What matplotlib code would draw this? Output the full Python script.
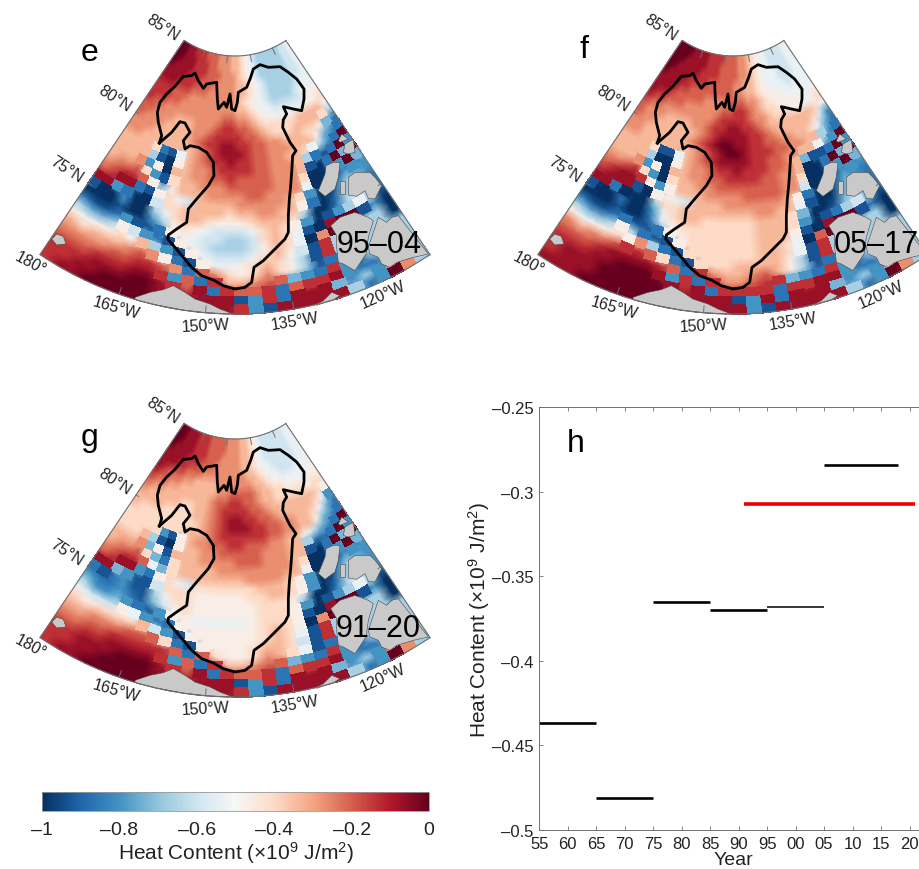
import numpy as np
import matplotlib
matplotlib.use('Agg')
import matplotlib.pyplot as plt
from matplotlib.cm import ScalarMappable
from matplotlib.colors import Normalize

plt.rcParams['font.family'] = ['Liberation Sans', 'DejaVu Sans']
plt.rcParams['mathtext.fontset'] = 'custom'
plt.rcParams['mathtext.rm'] = 'Liberation Sans'
plt.rcParams['mathtext.default'] = 'rm'

# heat content, one hex digit per cell: 0 = -1, f = 0
# rows go from 85N to 70N in 0.5 deg, columns from 180 to 110W in 2.5 deg
field_e = [
    'ffeedddcccbbbaa9876555555667',
    'ffeeedddccbbbaa9876555555667',
    'feeeedddcccbbba9876555555667',
    'eeeedddcccbbbbaa987655555667',
    'eeedddcccbbbbbaa987655555677',
    'dddcccbbbbbbbba9877655556777',
    'dddccbbbbbbbbbaa987766666788',
    'dccbbbbbbbbbccbba98877777889',
    'ccbbbaaabbbcddccba99999aaaa8',
    'cbbbaaaabbcddddccba999aaaa95',
    'bbbaaaaabcddeeddccbbaaa99842',
    'bbaaaaaaabcdeeedccbbbaaa8432',
    'aaaa9217abcddeddccbbaa97532f',
    'aaaa5108abbcddddccbbba5212f3',
    'aaab380aabbccdccccbbba102f4f',
    'abbc9319aabbbcccccbbb90013f4',
    'bcddc848aaabbbbccbbbb7001333',
    'cdee218976aaaabbbbba93003543',
    'ee3200699aaaa9aabbaa82014642',
    '100300579aa98889aaa950025752',
    '00010035898766679a9830135751',
    '21123112887665569a9710eff130',
    '54458632187655568a970bf55550',
    '878898a5318766679a861d555550',
    'a9aaabcb82187789a9751d555555',
    'bbbbccddcb2cb989b98512555555',
    'cccdddeed3c2daabcc432d325555',
    'dddeeeffedce2dccd2cdde322555',
    'ddeeffffefeeee13d2eee4353b55',
    'deefffffffeeeed31eeeee523fb5',
]
field_f = [
    'ffffeeeeddddcccbba9877666677',
    'fffeeeeedddccccbba9877666677',
    'ffeeeeeddddccccbba9877766677',
    'feeeeddddcccccbbaa9877766677',
    'eeeeddccccccccbbaa9887776777',
    'eeedcccccbbbbcccbba988877777',
    'eddcccbbbbbbccddcba998888778',
    'dccbbbbbbbbcddddcbba99988789',
    'cbbbaaaabbcddeeddcbaaaaaaa97',
    'cbbaaaaaabcdeeeeddcbaaaaa963',
    'bbaaaaaabcdeffeeddccbbaa9742',
    'bbaaaaaaabcdeffedddccbbaa532',
    'aaaa9117abcdeeeeddccbbaa743f',
    'aaaa5008abbcddedddccba4112f3',
    'aaab380aabbccddddccbba002f4f',
    'bbcd9309aabbcccccccbb90013f4',
    'cdeed838aaabbbbccccbb6001333',
    'deee108876aaabbbbbba82002432',
    'ee2000599aaaaaaabbaa71003542',
    '100200379aa99999aaa940014642',
    '0001002689999999aaa930125641',
    '2112211288999999aaa810eff120',
    '5445852118999999aa970cf55550',
    '878898b521999999aa971d555550',
    'babbcddc921999aaaa851d555555',
    'cccdeeeedc2dbaabca8512555555',
    'dddeefffe3d2dbbcdd432d325555',
    'deeefffffede2dddd2ddee322555',
    'deeeffffffeeee13e2eee4353b55',
    'eeefffffffeeeee31eeeee523fb5',
]
field_g = [
    'ffeeedddccccbbbaa98766666677',
    'ffeeedddccccbbbaa98766666677',
    'feeeedddcccbbbbaa98766666677',
    'eeeedddcccbbbbbaa98776666677',
    'eeeddcccbbbbbbbbaa9877666777',
    'edcccbbaaaabbbbbbaa988777778',
    'dccbbaaaaaabbccccbaa99888788',
    'cbbaaaaaaabccddccbaa99999899',
    'baaaaa99aabcddddccbaaaaaaa98',
    'aaaa9999aabcdeeddccbaaaaa973',
    'a99999999abcdeeeddccbbaa9742',
    '99999999aabcddddddccbbaa8432',
    '99999318abbccddcccbbaa86432f',
    '999a5108aabbcccccbbbaa5222f3',
    'aaab481aaabbbbcccbbbaa102f4f',
    'abbc9429aaaabbbbbbbba90013f4',
    'bcddc749aaaaaaabbbbaa7001333',
    'cdee328976999999aaa983003543',
    'ee431169998888899aa983014643',
    '2123115799888888999850025753',
    '3223214689888888999830135751',
    '5334321388777778999810eff130',
    '76668732288888889a980bf55550',
    '989999a6318888889a971d555550',
    'aabbbccc92188889aa961d555555',
    'bbccdddddc2c9889ba9712555555',
    'ccddeeeed3c2daabcc432d325555',
    'ddeeefffedce2dccd2cdde322555',
    'ddeeffffefeeee13d2eee4353b55',
    'deefffffffeeeed31eeeee523fb5',
]

lon_edges = np.arange(-180, -109, 2.5)
lat_edges = np.arange(85, 69.5, -0.5)

# basin outline and land, in map plane units
basin_x = [478, 485, 475, 472, 480, 500, 525, 550, 575, 585, 595, 610, 620, 650, 652, 655, 672, 680, 690, 695,
           705, 712, 715, 740, 752, 760, 780, 805, 840, 865, 890, 912, 912, 905, 880, 850, 860, 850, 848, 870,
           888, 878, 875, 872, 868, 865, 865, 855, 820, 790, 762, 755, 735, 705, 670, 640, 605, 575, 550, 525,
           503, 505, 530, 560, 565, 590, 625, 642, 640, 620, 595, 570, 555, 550, 570, 555, 540, 515, 478]
basin_y = [432, 410, 370, 340, 310, 285, 262, 232, 230, 222, 245, 268, 255, 250, 300, 330, 310, 325, 285, 330,
           335, 310, 280, 265, 235, 210, 197, 205, 203, 220, 240, 270, 300, 335, 330, 323, 345, 362, 385, 430,
           455, 470, 520, 560, 600, 650, 700, 720, 755, 785, 805, 850, 865, 870, 860, 843, 830, 805, 775, 745,
           720, 708, 690, 670, 630, 600, 560, 530, 490, 460, 445, 440, 450, 425, 400, 372, 368, 400, 432]

land_x = [
    [155, 170, 190, 198, 170],
    [405, 450, 490, 520, 555, 585, 630, 660, 700, 750, 700, 620, 550, 470, 405],
    [950, 970, 995, 1020, 1000, 950],
    [955, 975, 978, 1000, 1020, 1015, 1005, 975],
    [1020, 1035, 1035, 1020],
    [1045, 1065, 1110, 1125, 1145, 1125, 1105, 1095, 1070, 1045],
    [1030, 1035, 1060, 1065, 1045],
    [1015, 1025, 1045, 1020],
    [992, 1020, 1065, 1105, 1120, 1105, 1098, 1065, 1030, 1015, 1010, 1010],
    [1135, 1160, 1175, 1195, 1285, 1240, 1190, 1170, 1145, 1135, 1110, 1105, 1125],
]
land_y = [
    [720, 705, 712, 735, 738],
    [895, 880, 872, 860, 880, 900, 915, 930, 945, 944, 945, 941, 933, 918, 902],
    [915, 905, 880, 890, 902, 919],
    [575, 525, 500, 490, 490, 535, 570, 592],
    [545, 545, 585, 585],
    [535, 520, 520, 535, 560, 600, 598, 575, 592, 588],
    [460, 435, 420, 460, 465],
    [425, 405, 420, 430],
    [680, 655, 640, 655, 665, 715, 765, 815, 795, 790, 745, 710],
    [655, 670, 655, 650, 765, 775, 790, 805, 795, 775, 765, 745, 685],
]

lat_labels = ['85°N', '80°N', '75°N']
lat_ticks = [85, 80, 75]
lon_labels = ['180°', '165°W', '150°W', '135°W', '120°W']
lon_ticks = [-180, -165, -150, -135, -120]

periods = ['95–04', '05–17', '91–20']

# panel h
period_start = [1955, 1965, 1975, 1985, 1995, 2005]
period_end = [1965, 1975, 1985, 1995, 2005, 2018]
period_heat = [-0.4367, -0.481, -0.365, -0.37, -0.368, -0.2843]
climate_years = [1991, 2021]
climate_heat = -0.307
year_ticks = [1955, 1960, 1965, 1970, 1975, 1980, 1985, 1990, 1995, 2000, 2005, 2010, 2015, 2020]
year_labels = ['55', '60', '65', '70', '75', '80', '85', '90', '95', '00', '05', '10', '15', '20']
heat_ticks = [-0.5, -0.45, -0.4, -0.35, -0.3, -0.25]
heat_labels = ['–0.5', '–0.45', '–0.4', '–0.35', '–0.3', '–0.25']
bar_ticks = [-1, -0.8, -0.6, -0.4, -0.2, 0]
bar_labels = ['–1', '–0.8', '–0.6', '–0.4', '–0.2', '0']

W, H = 920, 870
HEAT_LABEL = 'Heat Content (×10$^{9}$ J/m$^{2}$)'
FRAME = '#707070'
TEXT = '#222222'


def project(lon, lat):
    # conic map used by all three panels
    theta = np.radians(0.97 * (np.asarray(lon, dtype=float) + 145))
    radius = 3 * (5 + 17.2 * (90 - np.asarray(lat, dtype=float)))
    return 705 + radius * np.sin(theta), -102 + radius * np.cos(theta)


def px_axes(left, top, right, bottom):
    return fig.add_axes([left / W, 1 - bottom / H, (right - left) / W, (bottom - top) / H])


def draw_field(ax, rows):
    values = np.array([[-1 + int(c, 16) / 15 for c in row] for row in rows])

    # smooth everywhere, through the cell centres
    lon_mid = np.r_[lon_edges[0], (lon_edges[:-1] + lon_edges[1:]) / 2, lon_edges[-1]]
    lat_mid = np.r_[lat_edges[0], (lat_edges[:-1] + lat_edges[1:]) / 2, lat_edges[-1]]
    x, y = project(*np.meshgrid(lon_mid, lat_mid))
    ax.pcolormesh(x, y, np.pad(values, 1, mode='edge'), cmap='RdBu_r', vmin=-1, vmax=0,
                  shading='gouraud', zorder=1)

    # cells with a hard jump next to them stay as square blocks, as on the shelf
    padded = np.pad(values, 1, mode='edge')
    jump = np.max([np.abs(padded[1:-1, 1:-1] - padded[:-2, 1:-1]),
                   np.abs(padded[1:-1, 1:-1] - padded[2:, 1:-1]),
                   np.abs(padded[1:-1, 1:-1] - padded[1:-1, :-2]),
                   np.abs(padded[1:-1, 1:-1] - padded[1:-1, 2:])], axis=0)
    x, y = project(*np.meshgrid(lon_edges, lat_edges))
    ax.pcolormesh(x, y, np.ma.masked_where(jump < 5 / 15, values), cmap='RdBu_r', vmin=-1, vmax=0,
                  shading='flat', edgecolors='face', linewidth=0.2, zorder=1.5)


def draw_map(ox, oy, rows, letter, letter_xy, period, period_xy):
    ax = px_axes(ox, oy, ox + 450, oy + 340)
    ax.set_xlim(0, 1350)
    ax.set_ylim(1020, 0)
    ax.axis('off')

    draw_field(ax, rows)

    for lx, ly in zip(land_x, land_y):
        ax.fill(lx, ly, facecolor='#c9c9c9', edgecolor='#444444', linewidth=0.4, zorder=2)
    ax.plot(basin_x, basin_y, color='black', linewidth=2, solid_joinstyle='round', zorder=4)

    # sector frame
    lons = np.linspace(-180, -110, 120)
    for lat in (85, 70):
        ax.plot(*project(lons, np.full(120, lat)), color=FRAME, linewidth=0.8, zorder=3)
    for lon in (-180, -110):
        ax.plot(*project([lon, lon], [85, 70]), color=FRAME, linewidth=0.8, zorder=3)
    for lon in lon_ticks[1:]:
        ax.plot(*project([lon, lon], [85, 84.6]), color=FRAME, linewidth=0.7, zorder=3)
        ax.plot(*project([lon, lon], [70, 70.4]), color=FRAME, linewidth=0.7, zorder=3)
    for lat in lat_ticks[1:]:
        ax.plot(*project([-180, -179], [lat, lat]), color=FRAME, linewidth=0.7, zorder=3)
        ax.plot(*project([-110, -111], [lat, lat]), color=FRAME, linewidth=0.7, zorder=3)

    for lat, label in zip(lat_ticks, lat_labels):
        tx, ty = project(-180, lat)
        ax.text(tx - 65, ty - 42, label, rotation=-33, rotation_mode='anchor', ha='center', va='center',
                fontsize=11.5, color=TEXT, clip_on=False)
    offsets = [(-28, 24, -28), (-10, 39, -16), (0, 37, 3), (4, 35, 9), (13, 34, 24)]
    for lon, label, (dx, dy, rot) in zip(lon_ticks, lon_labels, offsets):
        tx, ty = project(lon, 70)
        ax.text(tx + dx, ty + dy, label, rotation=rot, rotation_mode='anchor', ha='center', va='center',
                fontsize=11.5, color=TEXT, clip_on=False)

    ax.text(letter_xy[0], letter_xy[1], letter, fontsize=23, ha='center', va='center', color='black')
    ax.text(period_xy[0], period_xy[1], period, fontsize=22, ha='center', va='center', color='black', zorder=5)


fig = plt.figure(figsize=(W / 100, H / 100), dpi=100)

draw_map(0, 0, field_e, 'e', (270, 160), periods[0], (1138, 735))
draw_map(498, 0, field_f, 'f', (258, 150), periods[1], (1136, 735))
draw_map(0, 383, field_g, 'g', (270, 166), periods[2], (1135, 738))

# colour bar
cax = px_axes(42, 793, 429, 812)
cb = fig.colorbar(ScalarMappable(Normalize(-1, 0), 'RdBu_r'), cax=cax, orientation='horizontal')
cb.set_ticks(bar_ticks)
cb.set_ticklabels(bar_labels)
cb.ax.tick_params(length=0, pad=7, labelsize=14, labelcolor=TEXT)
cb.outline.set_edgecolor('#999999')
cb.outline.set_linewidth(0.6)
cb.set_label(HEAT_LABEL, fontsize=15, color=TEXT, labelpad=1)

# panel h
ax = px_axes(539.4, 408.3, 938, 831)
ax.hlines(period_heat[:4], period_start[:4], period_end[:4], color='black', linewidth=1.9)
ax.hlines(period_heat[4], period_start[4], period_end[4], color='black', linewidth=1.1)
ax.hlines(period_heat[5], period_start[5], period_end[5], color='black', linewidth=1.9)
ax.hlines(climate_heat, climate_years[0], climate_years[1], color='#ee0000', linewidth=2.6)
ax.set_xlim(1955, 2025)
ax.set_ylim(-0.5, -0.25)
ax.set_xticks(year_ticks)
ax.set_xticklabels(year_labels)
ax.set_yticks(heat_ticks)
ax.set_yticklabels(heat_labels)
ax.tick_params(direction='in', top=True, right=True, length=3, width=0.6, color=FRAME,
               labelsize=12, labelcolor=TEXT, pad=4)
for spine in ax.spines.values():
    spine.set_color(FRAME)
    spine.set_linewidth(0.7)
ax.set_xlabel('Year', fontsize=14, color=TEXT, labelpad=0, x=0.4875)
ax.set_ylabel(HEAT_LABEL, fontsize=15, color=TEXT)
ax.yaxis.set_label_coords(-0.119, 0.5)
ax.text(1961.4, -0.2711, 'h', fontsize=23, ha='center', va='center', color='black')

plt.savefig('out.png', dpi=100)
